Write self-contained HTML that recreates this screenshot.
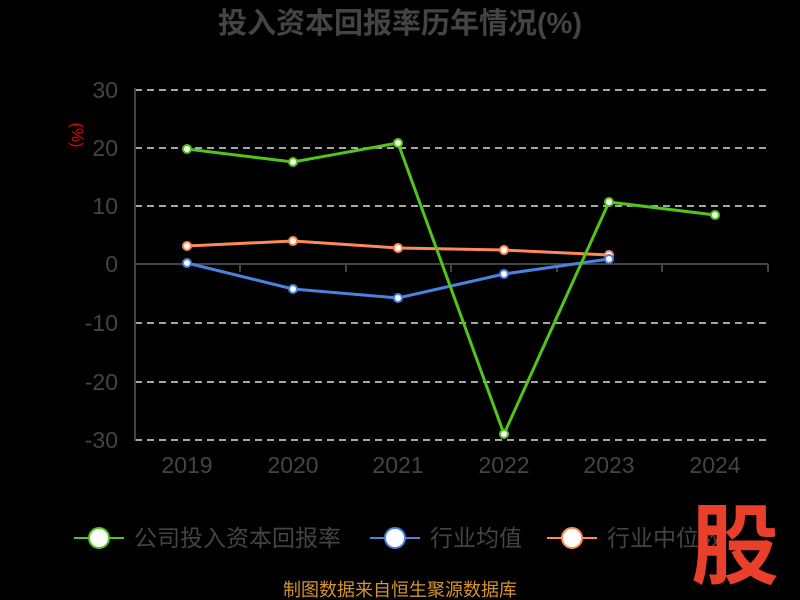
<!DOCTYPE html>
<html><head><meta charset="utf-8"><style>
body{margin:0;background:#000;width:800px;height:600px;overflow:hidden}
svg{display:block}
text{font-family:"Liberation Sans","Noto Sans CJK SC",sans-serif}
</style></head><body>
<svg width="800" height="600" viewBox="0 0 800 600">
<rect width="800" height="600" fill="#000"/>
<text x="400" y="33" text-anchor="middle" font-size="29" font-weight="bold" fill="#444">投入资本回报率历年情况(%)</text>
<text x="80" y="127" transform="rotate(90 72 127)" font-size="16" fill="#e00" text-anchor="middle">(%)</text>
<g stroke="#ddd" stroke-width="1.5" stroke-dasharray="7,5">
<line x1="135" y1="90" x2="768" y2="90"/><line x1="135" y1="148" x2="768" y2="148"/><line x1="135" y1="206" x2="768" y2="206"/>
<line x1="135" y1="323" x2="768" y2="323"/><line x1="135" y1="382" x2="768" y2="382"/><line x1="135" y1="440" x2="768" y2="440"/>
</g>
<g stroke="#444" stroke-width="2">
<line x1="135" y1="88" x2="135" y2="441"/><line x1="135" y1="264" x2="768" y2="264"/>
<line x1="240" y1="264" x2="240" y2="272"/><line x1="346" y1="264" x2="346" y2="272"/><line x1="451" y1="264" x2="451" y2="272"/><line x1="557" y1="264" x2="557" y2="272"/><line x1="662" y1="264" x2="662" y2="272"/><line x1="768" y1="264" x2="768" y2="272"/>
</g>
<g font-size="23" fill="#444" text-anchor="end">
<text x="118" y="98">30</text><text x="118" y="156">20</text><text x="118" y="214">10</text><text x="118" y="272">0</text>
<text x="118" y="331">-10</text><text x="118" y="390">-20</text><text x="118" y="448">-30</text>
</g>
<g font-size="23" fill="#444" text-anchor="middle">
<text x="187" y="473">2019</text><text x="293" y="473">2020</text><text x="398" y="473">2021</text><text x="504" y="473">2022</text><text x="609" y="473">2023</text><text x="715" y="473">2024</text>
</g>
<polyline fill="none" stroke="#ff8a55" stroke-width="3" points="187,246 293,241 398,248 504,250 609,255"/>
<polyline fill="none" stroke="#4a82e0" stroke-width="3" points="187,263 293,289 398,298 504,274 609,259"/>
<polyline fill="none" stroke="#52c41a" stroke-width="3" points="187,149 293,162 398,143 504,434 609,202 715,215"/>
<g fill="#fff" stroke-width="2">
<g stroke="#ff8a55"><circle cx="187" cy="246" r="4"/><circle cx="293" cy="241" r="4"/><circle cx="398" cy="248" r="4"/><circle cx="504" cy="250" r="4"/><circle cx="609" cy="255" r="4"/></g>
<g stroke="#4a82e0"><circle cx="187" cy="263" r="4"/><circle cx="293" cy="289" r="4"/><circle cx="398" cy="298" r="4"/><circle cx="504" cy="274" r="4"/><circle cx="609" cy="259" r="4"/></g>
<g stroke="#52c41a"><circle cx="187" cy="149" r="4"/><circle cx="293" cy="162" r="4"/><circle cx="398" cy="143" r="4"/><circle cx="504" cy="434" r="4"/><circle cx="609" cy="202" r="4"/><circle cx="715" cy="215" r="4"/></g>
</g>
<g font-size="23" fill="#444">
<line x1="74" y1="538" x2="124" y2="538" stroke="#52c41a" stroke-width="2"/><circle cx="99" cy="538" r="10" fill="#fff" stroke="#52c41a" stroke-width="2"/>
<text x="134" y="546">公司投入资本回报率</text>
<line x1="370" y1="538" x2="420" y2="538" stroke="#4a82e0" stroke-width="2"/><circle cx="395" cy="538" r="10" fill="#fff" stroke="#4a82e0" stroke-width="2"/>
<text x="430" y="546">行业均值</text>
<line x1="547" y1="538" x2="597" y2="538" stroke="#ff8a55" stroke-width="2"/><circle cx="572" cy="538" r="10" fill="#fff" stroke="#ff8a55" stroke-width="2"/>
<text x="607" y="546">行业中位数</text>
</g>
<text x="735" y="577" font-size="88" font-weight="bold" fill="#e8402a" text-anchor="middle">股</text>
<text x="400" y="596" font-size="18" fill="#d4952a" text-anchor="middle">制图数据来自恒生聚源数据库</text>
</svg>
</body></html>
